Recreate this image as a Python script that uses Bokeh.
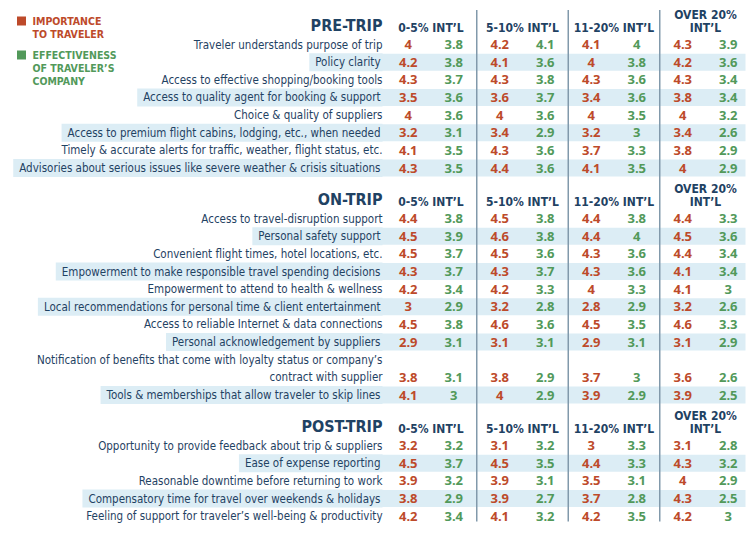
from bokeh.plotting import figure
from bokeh.models import ColumnDataSource, Range1d
from bokeh.core.properties import value
from bokeh.embed import file_html
from bokeh.resources import INLINE

# ---------------- data ----------------
groups = ["0-5% INT’L", "5-10% INT’L", "11-20% INT’L", "OVER 20%\nINT’L"]
sections = ["PRE-TRIP", "ON-TRIP", "POST-TRIP"]
legend_labels = ["IMPORTANCE\nTO TRAVELER", "EFFECTIVENESS\nOF TRAVELER’S\nCOMPANY"]

pre_labels = [
    "Traveler understands purpose of trip",
    "Policy clarity",
    "Access to effective shopping/booking tools",
    "Access to quality agent for booking & support",
    "Choice & quality of suppliers",
    "Access to premium flight cabins, lodging, etc., when needed",
    "Timely & accurate alerts for traffic, weather, flight status, etc.",
    "Advisories about serious issues like severe weather & crisis situations",
]
pre_importance = [
    [4, 4.2, 4.1, 4.3], [4.2, 4.1, 4, 4.2], [4.3, 4.3, 4.3, 4.3], [3.5, 3.6, 3.4, 3.8],
    [4, 4, 4, 4], [3.2, 3.4, 3.2, 3.4], [4.1, 4.3, 3.7, 3.8], [4.3, 4.4, 4.1, 4],
]
pre_effectiveness = [
    [3.8, 4.1, 4, 3.9], [3.8, 3.6, 3.8, 3.6], [3.7, 3.8, 3.6, 3.4], [3.6, 3.7, 3.6, 3.4],
    [3.6, 3.6, 3.5, 3.2], [3.1, 2.9, 3, 2.6], [3.5, 3.6, 3.3, 2.9], [3.5, 3.6, 3.5, 2.9],
]

on_labels = [
    "Access to travel-disruption support",
    "Personal safety support",
    "Convenient flight times, hotel locations, etc.",
    "Empowerment to make responsible travel spending decisions",
    "Empowerment to attend to health & wellness",
    "Local recommendations for personal time & client entertainment",
    "Access to reliable Internet & data connections",
    "Personal acknowledgement by suppliers",
    "Notification of benefits that come with loyalty status or company’s\ncontract with supplier",
    "Tools & memberships that allow traveler to skip lines",
]
on_importance = [
    [4.4, 4.5, 4.4, 4.4], [4.5, 4.6, 4.4, 4.5], [4.5, 4.5, 4.3, 4.4], [4.3, 4.3, 4.3, 4.1],
    [4.2, 4.2, 4, 4.1], [3, 3.2, 2.8, 3.2], [4.5, 4.6, 4.5, 4.6], [2.9, 3.1, 2.9, 3.1],
    [3.8, 3.8, 3.7, 3.6], [4.1, 4, 3.9, 3.9],
]
on_effectiveness = [
    [3.8, 3.8, 3.8, 3.3], [3.9, 3.8, 4, 3.6], [3.7, 3.6, 3.6, 3.4], [3.7, 3.7, 3.6, 3.4],
    [3.4, 3.3, 3.3, 3], [2.9, 2.8, 2.9, 2.6], [3.8, 3.6, 3.5, 3.3], [3.1, 3.1, 3.1, 2.9],
    [3.1, 2.9, 3, 2.6], [3, 2.9, 2.9, 2.5],
]

post_labels = [
    "Opportunity to provide feedback about trip & suppliers",
    "Ease of expense reporting",
    "Reasonable downtime before returning to work",
    "Compensatory time for travel over weekends & holidays",
    "Feeling of support for traveler’s well-being & productivity",
]
post_importance = [
    [3.2, 3.1, 3, 3.1], [4.5, 4.5, 4.4, 4.3], [3.9, 3.9, 3.5, 4],
    [3.8, 3.9, 3.7, 4.3], [4.2, 4.1, 4.2, 4.2],
]
post_effectiveness = [
    [3.2, 3.2, 3.3, 2.8], [3.7, 3.5, 3.3, 3.2], [3.2, 3.1, 3.1, 2.9],
    [2.9, 2.7, 2.8, 2.5], [3.4, 3.2, 3.5, 3],
]

# ---------------- style / layout ----------------
RED = "#bd4a2a"
GREEN = "#52995a"
NAVY = "#1f4263"
BAND = "#dcedf5"
SEP = "#8199ab"
LABEL_FONT = value("DejaVu Sans Condensed, Roboto, sans-serif")
VAL_FONT = value("Open Sans")

W, H = 750, 535
LABEL_RIGHT = 382
BAND_RIGHT = 745
PITCH = 17.65
FIRST_TITLE = 24.5
GROUP_X0 = 430.5
GROUP_DX = 91.5
PAIR_OFF = 22.75

p = figure(width=W, height=H, output_backend="svg", toolbar_location=None,
           x_range=Range1d(0, W), y_range=Range1d(H, 0),
           min_border=0)
p.axis.visible = False
p.grid.visible = False
p.outline_line_color = None
p.background_fill_color = "white"

group_x = [GROUP_X0 + k * GROUP_DX for k in range(len(groups))]

lab_plain = dict(x=[], y=[], t=[])
lab_shade = dict(x=[], y=[], t=[])
band = dict(left=[], right=[], top=[], bottom=[])
vals = dict(x=[], y=[], t=[], c=[])
titles = dict(x=[], y=[], t=[])
heads = dict(x=[], y=[], t=[])

sec_data = [
    (pre_labels, pre_importance, pre_effectiveness),
    (on_labels, on_importance, on_effectiveness),
    (post_labels, post_importance, post_effectiveness),
]

ty = FIRST_TITLE
last_y = ty
for s, (labels, imp, eff) in enumerate(sec_data):
    titles["x"].append(LABEL_RIGHT)
    titles["y"].append(ty)
    titles["t"].append(sections[s])
    hy = ty + 3
    for k, g in enumerate(groups):
        lines = g.split("\n")
        for j, ln in enumerate(lines):
            heads["x"].append(group_x[k])
            heads["y"].append(hy - (len(lines) - 1 - j) * 13.5)
            heads["t"].append(ln)
    slot = ty + 19.5
    for i, lab in enumerate(labels):
        lines = lab.split("\n")
        shaded = (i % 2 == 1)
        target = lab_shade if shaded else lab_plain
        first = slot
        for ln in lines:
            target["x"].append(LABEL_RIGHT)
            target["y"].append(slot)
            target["t"].append(ln)
            last_y = slot
            slot += PITCH
        if shaded:
            band["left"].append(LABEL_RIGHT - 1)
            band["right"].append(BAND_RIGHT)
            band["top"].append(first - 8.5)
            band["bottom"].append(last_y + 8.5)
        for k in range(len(groups)):
            vals["x"] += [group_x[k] - PAIR_OFF, group_x[k] + PAIR_OFF]
            vals["y"] += [last_y, last_y]
            vals["t"] += ["{:g}".format(imp[i][k]), "{:g}".format(eff[i][k])]
            vals["c"] += [RED, GREEN]
    ty = last_y + 31

p.quad(left="left", right="right", top="top", bottom="bottom",
       source=ColumnDataSource(band), fill_color=BAND, line_color=None)

sep_x = [(group_x[k] + group_x[k + 1]) / 2 for k in range(len(groups) - 1)]
p.segment(x0=sep_x, x1=sep_x, y0=[9.5] * len(sep_x), y1=[521] * len(sep_x),
          line_color=SEP, line_width=1.5)

p.text(x="x", y="y", text="t", source=ColumnDataSource(lab_plain),
       text_align="right", text_baseline="middle", text_font=LABEL_FONT,
       text_font_size="11.5px", text_color=NAVY)
p.text(x="x", y="y", text="t", source=ColumnDataSource(lab_shade),
       text_align="right", text_baseline="middle", text_font=LABEL_FONT,
       text_font_size="11.5px", text_color=NAVY,
       background_fill_color=BAND,
       padding=dict(left=6, right=2, top=2, bottom=2))

p.text(x="x", y="y", text="t", text_color="c", source=ColumnDataSource(vals),
       text_align="center", text_baseline="middle", text_font=VAL_FONT,
       text_font_style="bold", text_font_size="13px")

p.text(x="x", y="y", text="t", source=ColumnDataSource(titles),
       text_align="right", text_baseline="middle", text_font=LABEL_FONT,
       text_font_style="bold", text_font_size="16px", text_color=NAVY)
p.text(x="x", y="y", text="t", source=ColumnDataSource(heads),
       text_align="center", text_baseline="middle", text_font=LABEL_FONT,
       text_font_style="bold", text_font_size="12px", text_color=NAVY)

leg_colors = [RED, GREEN]
leg_top = [20, 54]
leg_sq = dict(x=[], y=[], c=[])
leg_txt = dict(x=[], y=[], t=[], c=[])
for n, lab in enumerate(legend_labels):
    leg_sq["x"].append(21)
    leg_sq["y"].append(leg_top[n] + 0.5)
    leg_sq["c"].append(leg_colors[n])
    for j, ln in enumerate(lab.split("\n")):
        leg_txt["x"].append(32)
        leg_txt["y"].append(leg_top[n] + j * 13)
        leg_txt["t"].append(ln)
        leg_txt["c"].append(leg_colors[n])
p.rect(x="x", y="y", width=9, height=9, width_units="screen", height_units="screen",
       fill_color="c", line_color=None, source=ColumnDataSource(leg_sq))
p.text(x="x", y="y", text="t", text_color="c", source=ColumnDataSource(leg_txt),
       text_align="left", text_baseline="middle", text_font=LABEL_FONT,
       text_font_style="bold", text_font_size="10.5px")

open("out.html", "w").write(file_html(p, INLINE))
